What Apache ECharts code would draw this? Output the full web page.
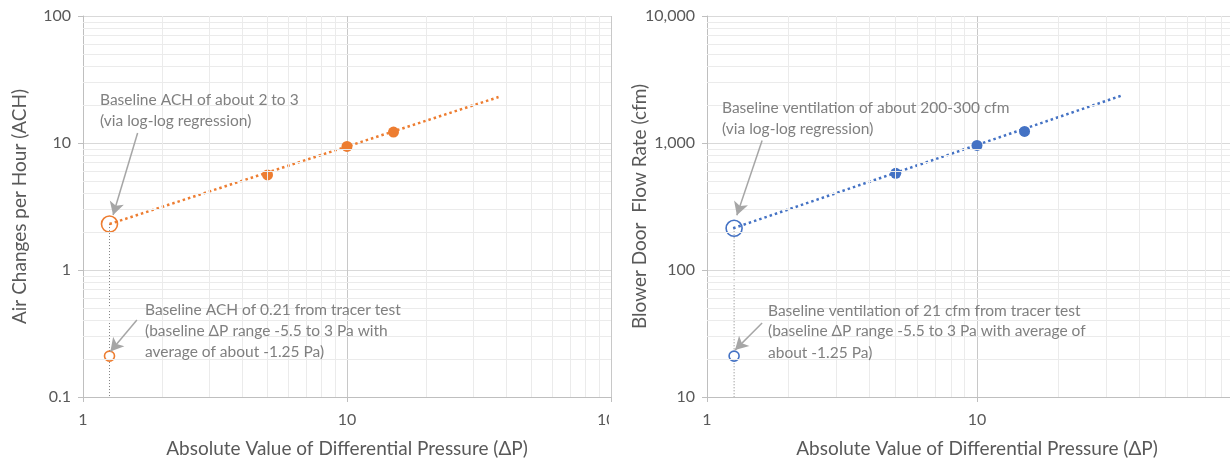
<!DOCTYPE html>
<html>
<head>
<meta charset="utf-8">
<script src="https://cdn.jsdelivr.net/npm/echarts@6/dist/echarts.min.js"></script>
<style>
  html, body { margin: 0; padding: 0; background: #fff; }
  #chart { width: 1230px; height: 459px; }
</style>
</head>
<body>
<div id="chart"></div>
<script>
// measured blower door points
const dpMeasured = [5, 10, 15]
const achMeasured = [5.6, 9.4, 12.2]
const cfmMeasured = [577, 957, 1234]
// log-log regression lines (ends)
const dpTrendAch = [1.26, 37.5]
const achTrend = [2.3, 23]
const dpTrendCfm = [1.25, 34.4]
const cfmTrend = [213, 2367]
// baseline estimates
const dpBaseline = 1.26
const achRegression = 2.3
const achTracer = 0.21
const cfmRegression = 213
const cfmTracer = 21
// minor gridlines (excel style)
const xMinor = [2, 3, 4, 5, 6, 7, 8, 9, 20, 30, 40, 50, 60, 70, 80, 90]
const yMinorAch = [0.2, 0.3, 0.4, 0.5, 0.6, 0.7, 0.8, 0.9, 2, 3, 4, 5, 6, 7, 8, 9, 20, 30, 40, 50, 60, 70, 80, 90]
const yMinorCfm = [20, 30, 40, 50, 60, 70, 80, 90, 200, 300, 400, 500, 600, 700, 800, 900, 2000, 3000, 4000, 5000, 6000, 7000, 8000, 9000]

const FONT = 'Lato'
const ORANGE = '#ED7D31'
const BLUE = '#4472C4'
const TXT = '#595959'
const NOTE = '#808080'

function xAxisCfg (idx) {
  return {
    type: 'log', logBase: 10, min: 1, max: 100, gridIndex: idx,
    name: 'Absolute Value of Differential Pressure (\u0394P)',
    nameLocation: 'middle', nameGap: 42, nameMoveOverlap: false,
    nameTextStyle: { fontFamily: FONT, fontSize: 19, color: TXT },
    axisLine: { lineStyle: { color: '#bfbfbf' } },
    axisTick: { show: true, length: 5, lineStyle: { color: '#bfbfbf' } },
    axisLabel: { fontFamily: FONT, fontSize: 16, color: TXT, margin: 15 },
    splitLine: { show: true, lineStyle: { color: '#c8c8c8' } }
  }
}
function yAxisCfg (idx, name, min, max, fmt) {
  return {
    type: 'log', logBase: 10, min: min, max: max, gridIndex: idx,
    name: name, nameLocation: 'middle', nameGap: idx === 0 ? 54 : 58, nameMoveOverlap: false,
    nameTextStyle: { fontFamily: FONT, fontSize: 19, color: TXT },
    axisLine: { show: true, lineStyle: { color: '#bfbfbf' } },
    axisTick: { show: true, length: 5, lineStyle: { color: '#bfbfbf' } },
    axisLabel: { fontFamily: FONT, fontSize: 16, color: TXT, margin: 12, formatter: fmt },
    splitLine: { show: true, lineStyle: { color: '#d9d9d9' } }
  }
}

function minorGrid (idx, xs, ys) {
  const data = xs.map(v => ({ xAxis: v })).concat(ys.map(v => ({ yAxis: v })))
  return {
    type: 'scatter', xAxisIndex: idx, yAxisIndex: idx, data: [], silent: true, z: 0,
    markLine: {
      silent: true, symbol: ['none', 'none'], label: { show: false }, animation: false,
      lineStyle: { color: '#ebebeb', width: 1, type: 'solid' },
      emphasis: { disabled: true },
      data: data
    }
  }
}

function panelSeries (idx, color, yMeasured, dpTrend, yTrend, yReg, yTracer, yMin, arrows) {
  return [
    minorGrid(idx, xMinor, idx === 0 ? yMinorAch : yMinorCfm),
    { // drop line from regression estimate to axis
      type: 'line', xAxisIndex: idx, yAxisIndex: idx, symbol: 'none', z: 2,
      lineStyle: { color: '#7f7f7f', width: 1, type: [1, 2] },
      data: [[dpBaseline, yReg], [dpBaseline, yMin]]
    },
    { // regression line
      type: 'line', xAxisIndex: idx, yAxisIndex: idx, symbol: 'none', z: 3,
      lineStyle: { color: color, width: 2.5, type: [2.5, 3] },
      data: dpTrend.map((d, i) => [d, yTrend[i]]),
      markLine: {
        silent: true, symbol: ['none', 'arrow'], symbolSize: [11, 13], label: { show: false },
        lineStyle: { color: '#a6a6a6', width: 1.5, type: 'solid' }, animation: false,
        data: arrows.map(a => [{ coord: a[0] }, { coord: a[1] }])
      }
    },
    { // measured
      type: 'scatter', xAxisIndex: idx, yAxisIndex: idx, symbolSize: 11, z: 4,
      itemStyle: { color: color, opacity: 1 },
      data: dpMeasured.map((d, i) => [d, yMeasured[i]])
    },
    { // regression baseline
      type: 'scatter', xAxisIndex: idx, yAxisIndex: idx, symbolSize: 16, z: 4,
      itemStyle: { color: 'rgba(0,0,0,0)', borderColor: color, borderWidth: 1.6, opacity: 1 },
      data: [[dpBaseline, yReg]]
    },
    { // tracer baseline
      type: 'scatter', xAxisIndex: idx, yAxisIndex: idx, symbolSize: 10, z: 4,
      itemStyle: { color: '#fff', borderColor: color, borderWidth: 1.6, opacity: 1 },
      data: [[dpBaseline, yTracer]]
    }
  ]
}

function note (x, y, text) {
  return {
    type: 'text', x: x, y: y, z: 100,
    style: { text: text, font: '15.5px ' + FONT, fill: NOTE, verticalAlign: 'middle', align: 'left' }
  }
}

const chart = echarts.init(document.getElementById('chart'), null, { renderer: 'canvas' })
chart.setOption({
  animation: false,
  backgroundColor: '#fff',
  grid: [
    { left: 83, top: 16, width: 528, height: 381, outerBoundsMode: 'none', containLabel: false },
    { left: 707, top: 16, width: 540, height: 381, outerBoundsMode: 'none', containLabel: false }
  ],
  xAxis: [xAxisCfg(0), xAxisCfg(1)],
  yAxis: [
    yAxisCfg(0, 'Air Changes per Hour (ACH)', 0.1, 100, v => String(v)),
    yAxisCfg(1, 'Blower Door  Flow Rate (cfm)', 10, 10000, v => Number(v).toLocaleString('en-US'))
  ],
  series: [].concat(
    panelSeries(0, ORANGE, achMeasured, dpTrendAch, achTrend, achRegression, achTracer, 0.1,
      [[[1.61, 12.0], [1.30, 2.71]], [[1.60, 0.404], [1.27, 0.228]]]),
    panelSeries(1, BLUE, cfmMeasured, dpTrendCfm, cfmTrend, cfmRegression, cfmTracer, 10,
      [[[1.60, 1048], [1.29, 270]], [[1.60, 38.2], [1.27, 23.4]]])
  ),
  graphic: [
    // left panel is cropped just after the 100 label starts
    { type: 'rect', shape: { x: 609, y: 405, width: 22, height: 30 }, style: { fill: '#fff' }, z: 100 },
    note(100, 100, 'Baseline ACH of about 2 to 3'),
    note(100, 121, '(via log-log regression)'),
    note(145, 310, 'Baseline ACH of 0.21 from tracer test'),
    note(145, 331, '(baseline \u0394P range -5.5 to 3 Pa with'),
    note(145, 352, 'average of about -1.25 Pa)'),
    note(722, 108, 'Baseline ventilation of about 200-300 cfm'),
    note(722, 129, '(via log-log regression)'),
    note(768, 311, 'Baseline ventilation of 21 cfm from tracer test'),
    note(768, 331, '(baseline \u0394P range -5.5 to 3 Pa with average of'),
    note(768, 353, 'about -1.25 Pa)')
  ]
})
</script>
</body>
</html>
